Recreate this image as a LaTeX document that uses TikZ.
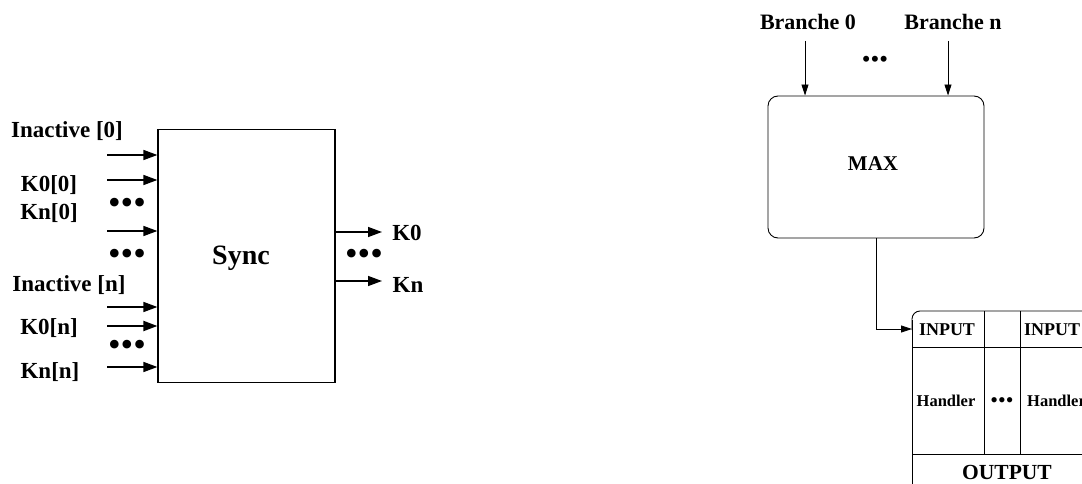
\documentclass[tikz,border=0pt]{standalone}
\usepackage{fontspec}
\setmainfont{Liberation Serif}
\usetikzlibrary{arrows.meta}
\begin{document}
\begin{tikzpicture}[x=1pt,y=-1pt,
  lbl/.style={font=\bfseries\fontsize{23}{23}\selectfont, inner sep=0pt},
  dotsl/.style={font=\fontsize{36}{36}\selectfont, inner sep=0pt},
  arrL/.style={line width=1.4pt, -{Triangle[length=14pt,width=10pt]}},
  arrR/.style={line width=0.9pt, -{Triangle[length=11pt,width=7pt]}},
  box/.style={draw, line width=1.2pt, inner sep=0pt}]
\useasboundingbox (0,0) rectangle (1082,484);
% ---------- left: Sync ----------
\node[box, minimum width=177pt, minimum height=253pt] (sync) at (246.5,256) {};
\node[lbl, font=\bfseries\fontsize{28}{28}\selectfont] (synct) at (241,258) {Sync};
\node[lbl] (l1) at (67,131) {Inactive [0]};
\node[lbl] (l2) at (49,185) {K0[0]};
\node[lbl] (l3) at (49,213) {Kn[0]};
\node[lbl] (l4) at (69,285) {Inactive [n]};
\node[lbl] (l5) at (49,328) {K0[n]};
\node[lbl] (l6) at (50,372) {Kn[n]};
\foreach \n/\y in {a1/155,a2/180,a3/231,a4/307,a6/367}{
  \coordinate (\n) at (107,\y);
  \draw[arrL] (\n) -- (\n -| sync.west);
}
\coordinate (a5) at (107,326);
\draw[arrL, line width=2pt] (a5) -- (a5 -| sync.west);
\node[dotsl] (d1) at (127,206) {•••};
\node[dotsl] (d2) at (127,257) {•••};
\node[dotsl] (d3) at (127,348) {•••};
\coordinate (o1) at (382,232);
\coordinate (o2) at (382,281);
\draw[arrL] (sync.east |- o1) -- (o1);
\draw[arrL] (sync.east |- o2) -- (o2);
\node[lbl] (k0) at (407,233) {K0};
\node[lbl] (kn) at (408,285) {Kn};
\node[dotsl] (d4) at (364,257) {•••};
% ---------- right: MAX ----------
\node[lbl, font=\bfseries\fontsize{22}{22}\selectfont] (br0) at (808,22) {Branche 0};
\node[lbl, font=\bfseries\fontsize{22}{22}\selectfont] (brn) at (953,22) {Branche n};
\node[box, line width=0.9pt, rounded corners=10pt, minimum width=216pt, minimum height=142pt] (max) at (876,167) {};
\node[lbl, font=\bfseries\fontsize{21}{21}\selectfont] (maxt) at (873,164) {MAX};
\coordinate (b0) at (805,41);
\coordinate (bn) at (948,41);
\draw[arrR] (b0) -- (b0 |- max.north);
\draw[arrR] (bn) -- (bn |- max.north);
\node[dotsl, font=\fontsize{25}{25}\selectfont] (d5) at (875,62) {•••};
% ---------- lower table ----------
\begin{scope}
\clip (0,0) rectangle (1082,484);
\draw[line width=0.9pt, rounded corners=8pt] (1100,311) -- (912,311) -- (912,330);
\draw[line width=0.9pt] (912,320) -- (912,500);
\draw[line width=0.9pt] (912,347) -- (1100,347);
\draw[line width=0.9pt] (912,454) -- (1100,454);
\draw[line width=0.9pt] (984,311) -- (984,454);
\draw[line width=0.9pt] (1020,311) -- (1020,454);
\node[lbl, font=\bfseries\fontsize{18}{18}\selectfont] (in1) at (947,330) {INPUT};
\node[lbl, font=\bfseries\fontsize{18}{18}\selectfont, anchor=west] (in2) at (1024,330) {INPUT};
\node[lbl, font=\bfseries\fontsize{16.5}{16.5}\selectfont] (h1) at (946,401) {Handler};
\node[lbl, font=\bfseries\fontsize{16.5}{16.5}\selectfont, anchor=west] (h2) at (1027,401) {Handler};
\node[dotsl, font=\fontsize{22}{22}\selectfont] (d6) at (1002,403) {•••};
\node[lbl, font=\bfseries\fontsize{21.5}{21.5}\selectfont] (outt) at (1007,472) {OUTPUT};
\end{scope}
\coordinate (tabin) at (912,329);
\draw[arrR] (max.south) |- (tabin);
\end{tikzpicture}
\end{document}
